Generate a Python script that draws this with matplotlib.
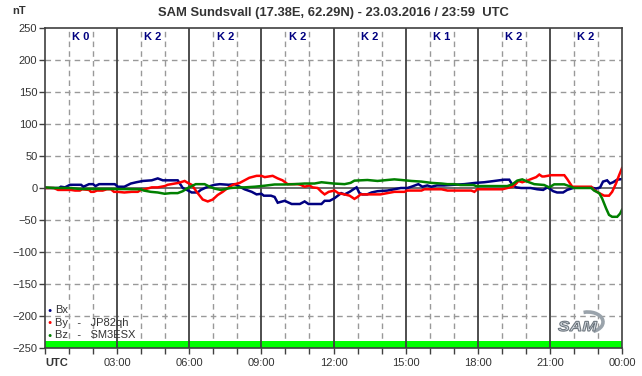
import matplotlib
matplotlib.use("Agg")
import matplotlib.pyplot as plt
from matplotlib.patches import Arc, PathPatch
from matplotlib.textpath import TextPath
from matplotlib.font_manager import FontProperties
from matplotlib.transforms import Affine2D
import matplotlib.patheffects as pe

plt.rcParams['font.family'] = ['Liberation Sans', 'DejaVu Sans']

title = "SAM Sundsvall (17.38E, 62.29N) - 23.03.2016 / 23:59  UTC"
k_index = [0, 2, 2, 2, 2, 1, 2, 2]
x_labels = ["UTC", "03:00", "06:00", "09:00", "12:00", "15:00", "18:00", "21:00", "00:00"]
y_ticks = [250, 200, 150, 100, 50, 0, -50, -100, -150, -200, -250]

bx_t = [0, 0.58, 0.66, 0.83, 1.04, 1.5, 1.6, 1.83, 2.0, 2.1, 2.25, 2.9, 3.03, 3.3, 3.57, 3.8, 4.07,
        4.44, 4.69, 4.9, 5.52, 5.73, 5.9, 6.1, 6.35, 6.48, 6.77, 7.06, 7.27, 7.64, 7.89, 8.1, 8.3,
        8.6, 8.8, 9.0, 9.1, 9.4, 9.55, 9.68, 9.97, 10.26, 10.6, 10.8, 10.96, 11.5, 11.63, 11.84,
        12.04, 12.32, 12.46, 12.67, 12.83, 12.96, 13.08, 13.2, 13.4, 13.58, 13.83, 14.24, 14.53,
        14.8, 15.07, 15.24, 15.53, 15.7, 15.9, 16.07, 16.3, 16.6, 16.99, 17.44, 17.9, 18.27,
        18.69, 19.1, 19.31, 19.44, 19.6, 19.8, 20.2, 20.47, 20.72, 20.9, 21.14, 21.3, 21.55,
        21.72, 21.97, 22.1, 22.7, 22.92, 23.09, 23.21, 23.38, 23.5, 23.63, 23.8, 24.0]
bx_v = [0, 0, 2, 1, 5, 5, 2, 6, 6, 3, 6, 6, 2, 2, 7, 9, 11,
        12, 15, 12, 12, 0, -3, -7, -7, -3, 2, 5, 6, 5, 6, 2, -2,
        -6, -10, -9, -12, -12, -14, -23, -20, -25, -25, -21, -25, -25, -20, -20,
        -16, -8, -10, -6, -2, 1, -8, -10, -10, -7, -5, -4, -2,
        0, 0, 2, 6, 2, 4, 2, 4, 4, 5, 6, 8, 9,
        11, 13, 13, 5, 1, 0, 0, -2, -3, 1, -5, -7, -7,
        -3, 0, 1, 1, -1, 1, 10, 12, 7, 9, 13, 14]

by_t = [0, 0.37, 0.54, 1.08, 1.25, 1.45, 1.54, 1.83, 1.91, 2.03, 2.16, 2.4, 2.57, 2.74, 2.87,
        3.03, 3.3, 3.6, 3.86, 3.99, 4.15, 4.44, 4.69, 4.98, 5.1, 5.4, 5.56, 5.81, 5.94, 6.1,
        6.31, 6.56, 6.77, 6.98, 7.18, 7.39, 7.6, 7.81, 8.1, 8.3, 8.5, 8.8, 9.0, 9.14, 9.47,
        9.68, 9.88, 10.09, 10.5, 10.63, 10.8, 11.0, 11.13, 11.34, 11.5, 11.63, 11.8, 12.04,
        12.2, 12.46, 12.67, 12.87, 13.0, 13.12, 13.4, 13.95, 14.24, 14.53, 14.95, 15.07,
        15.66, 15.78, 16.07, 16.49, 16.74, 17.73, 17.86, 17.98, 19.02, 19.23, 19.44, 19.6,
        19.69, 19.85, 20.02, 20.22, 20.43, 20.56, 20.68, 20.76, 21.05, 21.6, 21.72, 21.93,
        22.72, 22.84, 23.05, 23.26, 23.46, 23.59, 23.75, 23.88, 24.0]
by_v = [0, 0, -3, -3, -4, -4, -2, -3, -6, -6, -4, -4, -2, -2, -6,
        -6, -7, -6, -6, -3, -2, 1, 1, 3, 5, 7, 8, 11, 8, 5,
        -6, -18, -21, -18, -11, -6, 0, 5, 8, 12, 16, 19, 19, 17, 19,
        15, 12, 6, 6, 5, 2, 4, 1, 0, -6, -10, -6, -4,
        -8, -10, -12, -17, -14, -10, -10, -10, -8, -6, -6, -4,
        -4, -2, -2, -2, -4, -4, -6, -2, -2, 0, 2, 7,
        11, 9, 11, 14, 17, 21, 18, 18, 20, 20, 14, 2,
        2, -3, -8, -12, -12, -6, 7, 20, 31]

bz_t = [0, 0.37, 1.08, 1.41, 2.74, 3.99, 4.11, 4.4, 4.69, 4.98, 5.23, 5.52, 5.73, 5.94, 6.1,
        6.27, 6.64, 6.85, 7.06, 7.31, 7.72, 8.1, 8.3, 8.72, 9.14, 9.55, 9.97, 10.38, 10.8,
        11.21, 11.5, 11.75, 12.0, 12.46, 12.71, 12.87, 13.41, 13.83, 14.24, 14.53, 14.83,
        15.24, 15.66, 16.07, 16.49, 16.74, 17.03, 17.28, 17.82, 17.94, 19.23, 19.44, 19.64,
        19.85, 20.06, 20.35, 20.76, 20.97, 21.18, 21.6, 21.8, 22.01, 22.72, 22.84, 23.05,
        23.17, 23.34, 23.46, 23.59, 23.8, 23.92, 24.0]
bz_v = [1, 0, 0, -1.5, -1.5, -2, -4, -6, -7, -9, -8, -8, -5, 0, 3,
        6, 6, 2, -1, -3, 0, 1, 1, 2, 3.6, 5.5, 5.5, 6, 7,
        7, 9, 8, 7, 6, 8, 11.5, 12.5, 11, 12.5, 13.5, 12.5,
        11, 10, 8, 7, 6, 6, 4.7, 4.7, 3, 3, 5.7, 11.5,
        13.5, 10, 6, 4.7, 1, 5.7, 5.7, 3, 0, 0, -4, -8,
        -16, -32, -42, -45, -45, -40, -34]

W, H = 642, 376
fig = plt.figure(figsize=(W / 100, H / 100), dpi=100)
ax = fig.add_axes([45 / W, 1 - 348 / H, (622 - 45) / W, 320 / H])

txt = '#333333'
dark = '#404040'

ax.set_xlim(0, 24)
ax.set_ylim(-250, 250)

major_h = list(range(0, 25, 3))
minor_h = [h for h in range(0, 25) if h % 3 != 0]

# grids
for h in minor_h:
    ax.axvline(h, color='#999999', lw=1, ls=(0, (4, 3)), zorder=1)
for y in y_ticks:
    if y not in (0, 250, -250):
        ax.axhline(y, color='#999999', lw=1, ls=(0, (4, 3)), zorder=1)
ax.axhspan(-250, -239, color='#00ff00', lw=0, zorder=2)
for h in major_h[1:-1]:
    ax.axvline(h, color=dark, lw=1.3, zorder=3)
ax.axhline(0, color='#555555', lw=1.2, zorder=3)

ax.plot(bx_t, bx_v, color='#000080', lw=1.8, zorder=5, solid_joinstyle='miter')
ax.plot(by_t, by_v, color='#ff0000', lw=1.8, zorder=5, solid_joinstyle='miter')
ax.plot(bz_t, bz_v, color='#008000', lw=1.8, zorder=5, solid_joinstyle='miter')

# K index labels
for i, k in enumerate(k_index):
    ax.text(1.5 + 3 * i, 236, f"K {k}", ha='center', va='center', color='#000080',
            fontsize=8, fontweight='bold', zorder=6)

# ticks
ax.set_xticks(major_h)
ax.set_xticks(minor_h, minor=True)
ax.set_xticklabels(x_labels)
ax.set_yticks(y_ticks)
ax.set_yticklabels([str(v).replace('-', '\u2212') for v in y_ticks])
ax.tick_params(axis='both', which='both', direction='out', length=4, width=1, color=dark,
               labelsize=8, labelcolor=txt)
ax.tick_params(axis='x', pad=3)
ax.tick_params(axis='y', pad=1.5)
lbls = ax.get_xticklabels()
lbls[0].set_ha('left')
lbls[0].set_fontweight('bold')
for s in ax.spines.values():
    s.set_color(dark)
    s.set_linewidth(1.2)
    s.set_zorder(7)

# title and unit
fig.text(333 / W, 1 - 13 / H, title, ha='center', va='center', fontsize=9.4, fontweight='bold', color=txt)
fig.text(12 / W, 1 - 11 / H, "nT", ha='left', va='center', fontsize=8, fontweight='bold', color=txt)

# legend
leg_items = [("Bx", '#000080'), ("By   -   JP82qh", '#ff0000'), ("Bz   -   SM3ESX", '#008000')]
for i, (lab, col) in enumerate(leg_items):
    yy = 1 - (310 + i * 12.7) / H
    fig.text(50 / W, yy, "\u25CF", ha='center', va='center', fontsize=5, color=col)
    fig.text(55 / W, yy, lab, ha='left', va='center', fontsize=8, color=txt)

# SAM logo (approximate)
lax = fig.add_axes([555 / W, 1 - 343 / H, 70 / W, 35 / H])
lax.set_xlim(555, 625)
lax.set_ylim(343, 308)
lax.axis('off')
lax.add_patch(Arc((588, 322), 30, 20, theta1=245, theta2=60, color='#9aa3ab', lw=2.6))
tp = TextPath((0, 0), "SAM", size=10,
              prop=FontProperties(family='Liberation Sans', style='italic', weight='bold'))
tr = Affine2D().scale(1.75, -1.4).translate(558, 331)
lax.add_patch(PathPatch(tr.transform_path(tp), facecolor='#d6dce2', edgecolor='#6f7880', lw=0.8))

fig.savefig("out.png", dpi=100)
